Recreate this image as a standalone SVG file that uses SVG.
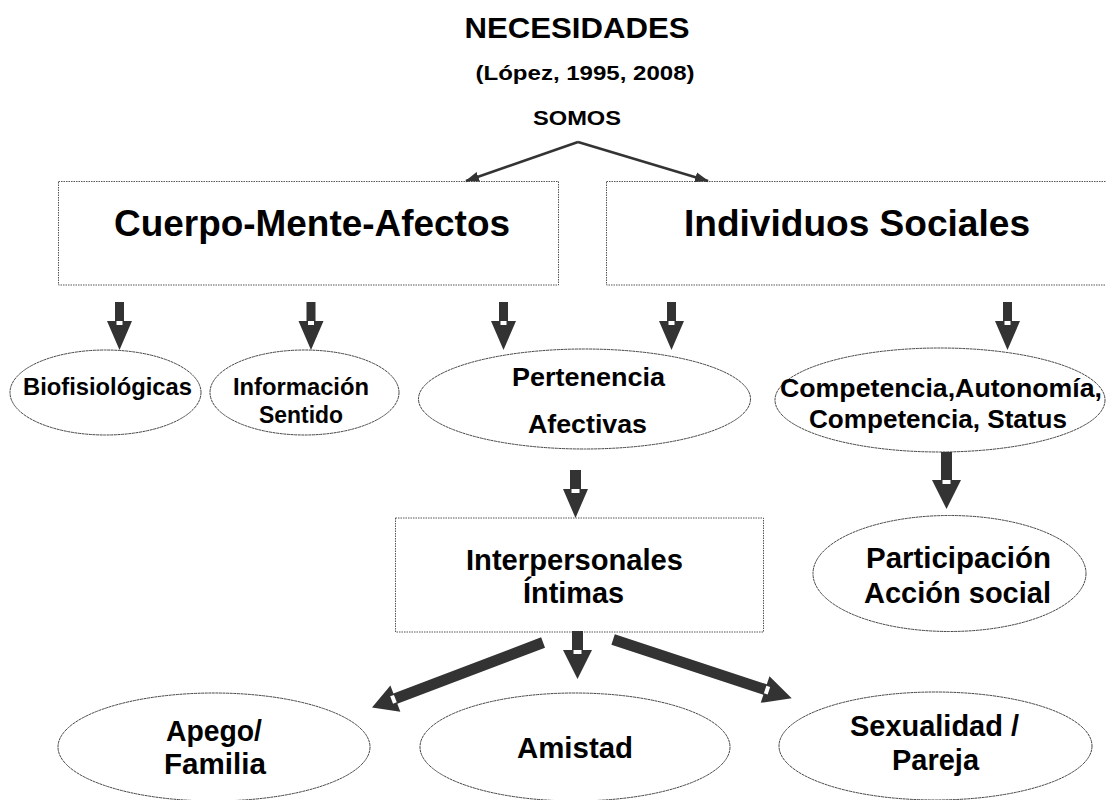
<svg xmlns="http://www.w3.org/2000/svg" width="1106" height="800" viewBox="0 0 1106 800">
<defs>
<style>
text{font-family:"Liberation Sans",Arial,sans-serif;font-weight:bold;fill:#000;text-anchor:middle}
.box{fill:#fff;stroke:#555;stroke-width:1;stroke-dasharray:1.5 1}
.ell{fill:#fff;stroke:#444;stroke-width:1;stroke-dasharray:3 0.6}
.blk{fill:#333}
.notch{fill:#fff}
.thin{stroke:#333;stroke-width:2.5;fill:none}
</style>
<marker id="ah" markerUnits="userSpaceOnUse" markerWidth="14" markerHeight="12" viewBox="0 0 14 12" refX="13" refY="6" orient="auto">
<path d="M0,1 L14,6 L0,11 Z" fill="#333"/>
</marker>
</defs>
<rect width="1106" height="800" fill="#fff"/>

<g id="title">
<text x="577" y="38" font-size="30" textLength="225" lengthAdjust="spacingAndGlyphs">NECESIDADES</text>
<text x="585" y="80" font-size="21" textLength="219" lengthAdjust="spacingAndGlyphs">(López, 1995, 2008)</text>
</g>
<g id="somos">
<text x="577" y="125" font-size="21" textLength="88" lengthAdjust="spacingAndGlyphs">SOMOS</text>
</g>

<g id="cuerpo">
<rect class="box" x="58.5" y="181.5" width="500" height="103.5"/>
<text x="312" y="236" font-size="37" textLength="396" lengthAdjust="spacingAndGlyphs">Cuerpo-Mente-Afectos</text>
</g>
<g id="individuos">
<rect class="box" x="606.5" y="181.5" width="510" height="103.5"/>
<text x="857" y="236" font-size="37" textLength="346" lengthAdjust="spacingAndGlyphs">Individuos Sociales</text>
</g>

<g id="biofisiologicas">
<ellipse class="ell" cx="105.5" cy="392.5" rx="95.5" ry="42.5"/>
<text x="107.5" y="395" font-size="23" textLength="169" lengthAdjust="spacingAndGlyphs">Biofisiológicas</text>
</g>
<g id="informacion">
<ellipse class="ell" cx="304.5" cy="392.5" rx="94.5" ry="42.5"/>
<text x="301" y="395" font-size="23" textLength="136" lengthAdjust="spacingAndGlyphs">Información</text>
<text x="301" y="423" font-size="23" textLength="84" lengthAdjust="spacingAndGlyphs">Sentido</text>
</g>
<g id="pertenencia">
<ellipse class="ell" cx="584.5" cy="399" rx="166" ry="50"/>
<text x="588.5" y="386" font-size="26" textLength="153" lengthAdjust="spacingAndGlyphs">Pertenencia</text>
<text x="587.5" y="433" font-size="26" textLength="119" lengthAdjust="spacingAndGlyphs">Afectivas</text>
</g>
<g id="competencia">
<ellipse class="ell" cx="940" cy="400" rx="165" ry="52"/>
<text x="941" y="397" font-size="25" textLength="322" lengthAdjust="spacingAndGlyphs">Competencia,Autonomía,</text>
<text x="938" y="428" font-size="25" textLength="258" lengthAdjust="spacingAndGlyphs">Competencia, Status</text>
</g>
<g id="interpersonales">
<rect class="box" x="395.5" y="518" width="368" height="114"/>
<text x="574.5" y="570" font-size="29" textLength="217" lengthAdjust="spacingAndGlyphs">Interpersonales</text>
<text x="573.5" y="603" font-size="29" textLength="101" lengthAdjust="spacingAndGlyphs">Íntimas</text>
</g>
<g id="participacion">
<ellipse class="ell" cx="949.5" cy="573.5" rx="136.5" ry="58"/>
<text x="958.5" y="568" font-size="29" textLength="185" lengthAdjust="spacingAndGlyphs">Participación</text>
<text x="957.5" y="603" font-size="29" textLength="187" lengthAdjust="spacingAndGlyphs">Acción social</text>
</g>
<g id="apego">
<ellipse class="ell" cx="214" cy="747" rx="156" ry="54"/>
<text x="214" y="741" font-size="29" textLength="96" lengthAdjust="spacingAndGlyphs">Apego/</text>
<text x="215" y="774" font-size="29" textLength="102" lengthAdjust="spacingAndGlyphs">Familia</text>
</g>
<g id="amistad">
<ellipse class="ell" cx="575" cy="747" rx="155" ry="54"/>
<text x="575" y="758" font-size="29" textLength="116" lengthAdjust="spacingAndGlyphs">Amistad</text>
</g>
<g id="sexualidad">
<ellipse class="ell" cx="935.5" cy="746" rx="156.5" ry="54"/>
<text x="934.5" y="736" font-size="29" textLength="169" lengthAdjust="spacingAndGlyphs">Sexualidad /</text>
<text x="935.5" y="770" font-size="29" textLength="87" lengthAdjust="spacingAndGlyphs">Pareja</text>
</g>

<g id="connectors">
<line class="thin" x1="578" y1="142" x2="466" y2="181" marker-end="url(#ah)"/>
<line class="thin" x1="578" y1="142" x2="708" y2="181" marker-end="url(#ah)"/>

<g transform="translate(119.5,350)"><path class="blk" d="M-4.5,-48 H4.5 V-29 H12.5 L0,0 L-12.5,-29 H-4.5 Z"/><rect class="notch" x="-3" y="-29" width="6" height="4"/></g>
<g transform="translate(311,350)"><path class="blk" d="M-4.5,-48 H4.5 V-29 H12.5 L0,0 L-12.5,-29 H-4.5 Z"/><rect class="notch" x="-3" y="-29" width="6" height="4"/></g>
<g transform="translate(503.5,350)"><path class="blk" d="M-4.5,-48 H4.5 V-29 H12.5 L0,0 L-12.5,-29 H-4.5 Z"/><rect class="notch" x="-3" y="-29" width="6" height="4"/></g>
<g transform="translate(671.5,350)"><path class="blk" d="M-4.5,-48 H4.5 V-29 H12.5 L0,0 L-12.5,-29 H-4.5 Z"/><rect class="notch" x="-3" y="-29" width="6" height="4"/></g>
<g transform="translate(1007.5,350)"><path class="blk" d="M-4.5,-48 H4.5 V-29 H12.5 L0,0 L-12.5,-29 H-4.5 Z"/><rect class="notch" x="-3" y="-29" width="6" height="4"/></g>

<g transform="translate(575.5,518)"><path class="blk" d="M-5.5,-48 H5.5 V-29 H12.5 L0,0 L-12.5,-29 H-5.5 Z"/><rect class="notch" x="-4" y="-29" width="8" height="4"/></g>
<g transform="translate(946.5,509)"><path class="blk" d="M-5.5,-57 H5.5 V-29 H14.5 L0,0 L-14.5,-29 H-5.5 Z"/><rect class="notch" x="-4" y="-29" width="8" height="4"/></g>
<g transform="translate(577.5,679)"><path class="blk" d="M-5.5,-48 H5.5 V-29 H14.5 L0,0 L-14.5,-29 H-5.5 Z"/><rect class="notch" x="-4" y="-29" width="8" height="4"/></g>

<g transform="translate(372,707.5) rotate(69.2)"><path class="blk" d="M-5.5,-183 H5.5 V-25 H14 L0,0 L-14,-25 H-5.5 Z"/><rect class="notch" x="-4" y="-25" width="8" height="4"/></g>
<g transform="translate(791.7,698.3) rotate(-71.8)"><path class="blk" d="M-5.5,-188 H5.5 V-28 H14 L0,0 L-14,-28 H-5.5 Z"/><rect class="notch" x="-4" y="-28" width="8" height="4"/></g>
</g>
</svg>
